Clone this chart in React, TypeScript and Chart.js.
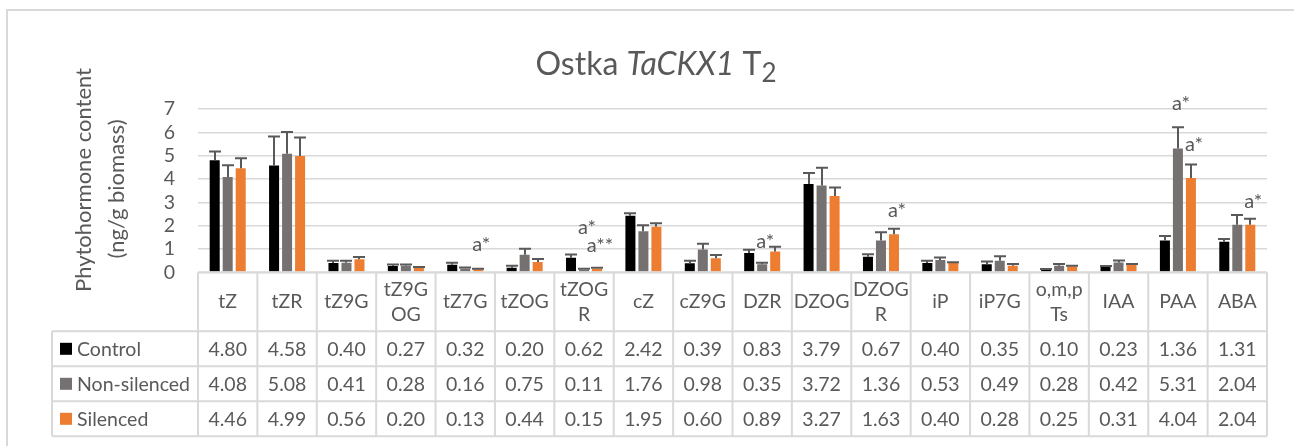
import React, { useEffect, useRef } from 'react';
import { Chart, registerables } from 'chart.js';

Chart.register(...registerables);

const categories = ['tZ', 'tZR', 'tZ9G', 'tZ9G\nOG', 'tZ7G', 'tZOG', 'tZOG\nR', 'cZ', 'cZ9G', 'DZR', 'DZOG', 'DZOG\nR', 'iP', 'iP7G', 'o,m,p\nTs', 'IAA', 'PAA', 'ABA'];
const seriesNames = ['Control', 'Non-silenced', 'Silenced'];

const control = [4.80, 4.58, 0.40, 0.27, 0.32, 0.20, 0.62, 2.42, 0.39, 0.83, 3.79, 0.67, 0.40, 0.35, 0.10, 0.23, 1.36, 1.31];
const nonSilenced = [4.08, 5.08, 0.41, 0.28, 0.16, 0.75, 0.11, 1.76, 0.98, 0.35, 3.72, 1.36, 0.53, 0.49, 0.28, 0.42, 5.31, 2.04];
const silenced = [4.46, 4.99, 0.56, 0.20, 0.13, 0.44, 0.15, 1.95, 0.60, 0.89, 3.27, 1.63, 0.40, 0.28, 0.25, 0.31, 4.04, 2.04];

const controlErr = [0.38, 1.24, 0.09, 0.06, 0.09, 0.08, 0.14, 0.11, 0.11, 0.14, 0.47, 0.10, 0.10, 0.11, 0.04, 0.04, 0.20, 0.12];
const nonSilencedErr = [0.51, 0.93, 0.09, 0.05, 0.05, 0.26, 0.04, 0.26, 0.24, 0.06, 0.76, 0.36, 0.10, 0.20, 0.08, 0.09, 0.91, 0.42];
const silencedErr = [0.43, 0.79, 0.10, 0.03, 0.02, 0.13, 0.05, 0.15, 0.14, 0.20, 0.36, 0.24, 0.03, 0.08, 0.03, 0.05, 0.58, 0.26];

// significance marks: category index, series index, text, level (in data units)
const markCategory = [4, 6, 6, 9, 11, 16, 16, 17];
const markSeries = [2, 1, 2, 1, 2, 1, 2, 2];
const markText = ['a*', 'a*', 'a**', 'a*', 'a*', 'a*', 'a*', 'a*'];
const markLevel = [1.17, 1.9, 1.13, 1.31, 2.64, 7.23, 5.47, 3.03];

const yTicks = [0, 1, 2, 3, 4, 5, 6, 7];

const seriesValues = [control, nonSilenced, silenced];
const seriesErrors = [controlErr, nonSilencedErr, silencedErr];
const colors = ['#000000', '#767171', '#ED7D31'];
const TEXT = '#595959';
const LINE = '#D9D9D9';
const FONT = 'Lato, "Open Sans", sans-serif';

const errorBarPlugin = {
  id: 'errorBars',
  afterDatasetsDraw(chart: any) {
    const ctx = chart.ctx;
    const y = chart.scales.y;
    ctx.save();
    ctx.strokeStyle = TEXT;
    ctx.lineWidth = 2;
    seriesValues.forEach((vals, di) => {
      const meta = chart.getDatasetMeta(di);
      meta.data.forEach((bar: any, i: number) => {
        const top = y.getPixelForValue(vals[i] + seriesErrors[di][i]);
        const base = y.getPixelForValue(vals[i]);
        const x = Math.round(bar.x);
        ctx.beginPath();
        ctx.moveTo(x, base);
        ctx.lineTo(x, top);
        ctx.moveTo(x - 6, top);
        ctx.lineTo(x + 6, top);
        ctx.stroke();
      });
    });
    // significance marks
    ctx.fillStyle = TEXT;
    ctx.font = `20px ${FONT}`;
    ctx.textAlign = 'center';
    ctx.textBaseline = 'middle';
    markCategory.forEach((c, k) => {
      const bar = chart.getDatasetMeta(markSeries[k]).data[c];
      ctx.fillText(markText[k], bar.x + 3, y.getPixelForValue(markLevel[k]));
    });
    ctx.restore();
  },
};

const decorPlugin = {
  id: 'decor',
  afterDraw(chart: any) {
    const ctx = chart.ctx;
    const { left, right, bottom } = chart.chartArea;
    const n = categories.length;
    const cw = (right - left) / n;
    const headerH = 59;
    const rowH = 35;
    const tableLeft = 52;
    const headTop = bottom;
    const rowsTop = headTop + headerH;
    const tableBottom = rowsTop + rowH * 3;

    ctx.save();
    // outer frame
    ctx.strokeStyle = LINE;
    ctx.lineWidth = 2;
    ctx.strokeRect(7, 10, 1400, 600);

    // table grid
    ctx.beginPath();
    ctx.moveTo(left, headTop);
    ctx.lineTo(right, headTop);
    for (let r = 0; r <= 3; r++) {
      ctx.moveTo(tableLeft, rowsTop + r * rowH);
      ctx.lineTo(right, rowsTop + r * rowH);
    }
    for (let k = 0; k <= n; k++) {
      const x = left + k * cw;
      ctx.moveTo(x, headTop);
      ctx.lineTo(x, tableBottom);
    }
    ctx.moveTo(tableLeft, rowsTop);
    ctx.lineTo(tableLeft, tableBottom);
    ctx.stroke();

    // header labels
    ctx.fillStyle = TEXT;
    ctx.font = `19.5px ${FONT}`;
    ctx.textAlign = 'center';
    ctx.textBaseline = 'middle';
    categories.forEach((c, i) => {
      const cx = left + (i + 0.5) * cw;
      const lines = c.split('\n');
      const cy = headTop + headerH / 2;
      lines.forEach((ln, j) => {
        ctx.fillText(ln, cx, cy + (j - (lines.length - 1) / 2) * 25);
      });
    });

    // data rows
    seriesValues.forEach((vals, r) => {
      const cy = rowsTop + (r + 0.5) * rowH;
      ctx.textAlign = 'center';
      ctx.fillStyle = TEXT;
      vals.forEach((v, i) => {
        ctx.fillText(v.toFixed(2), left + (i + 0.5) * cw, cy + 1);
      });
      ctx.fillStyle = colors[r];
      ctx.fillRect(60, cy - 6, 12, 12);
      ctx.fillStyle = TEXT;
      ctx.textAlign = 'left';
      ctx.fillText(seriesNames[r], 77, cy + 1);
    });

    // y axis title
    ctx.font = `22px ${FONT}`;
    ctx.textAlign = 'center';
    ctx.textBaseline = 'middle';
    ctx.save();
    ctx.translate(84, 180);
    ctx.rotate(-Math.PI / 2);
    ctx.fillText('Phytohormone content', 0, 0);
    ctx.restore();
    ctx.save();
    ctx.translate(117, 189);
    ctx.rotate(-Math.PI / 2);
    ctx.fillText('(ng/g biomass)', 0, 0);
    ctx.restore();

    // chart title
    const parts = [
      { t: 'Ostka ', f: `32px ${FONT}`, dy: 0 },
      { t: 'TaCKX1', f: `italic 32px ${FONT}`, dy: 0 },
      { t: ' T', f: `32px ${FONT}`, dy: 0 },
      { t: '2', f: `26px ${FONT}`, dy: 7 },
    ];
    let total = 0;
    parts.forEach((p) => {
      ctx.font = p.f;
      total += ctx.measureText(p.t).width;
    });
    let x = 656 - total / 2;
    ctx.textAlign = 'left';
    ctx.textBaseline = 'alphabetic';
    parts.forEach((p) => {
      ctx.font = p.f;
      ctx.fillText(p.t, x, 75 + p.dy);
      x += ctx.measureText(p.t).width;
    });
    ctx.restore();
  },
};

export default function App() {
  const ref = useRef<HTMLCanvasElement>(null);
  useEffect(() => {
    document.body.style.margin = '0';
    const chart = new Chart(ref.current as HTMLCanvasElement, {
      type: 'bar',
      data: {
        labels: categories,
        datasets: seriesNames.map((name, i) => ({
          label: name,
          data: seriesValues[i],
          backgroundColor: colors[i],
          borderWidth: 0,
          barPercentage: 0.77,
          categoryPercentage: 0.657,
        })),
      },
      options: {
        animation: false,
        responsive: false,
        devicePixelRatio: 1,
        layout: { padding: { left: 0, top: 109, right: 27, bottom: 173.7 } },
        plugins: { legend: { display: false }, title: { display: false }, tooltip: { enabled: false } },
        scales: {
          x: { display: false },
          y: {
            min: 0,
            max: 7,
            afterBuildTicks: (scale: any) => {
              scale.ticks = yTicks.map((v) => ({ value: v }));
            },
            afterFit: (scale: any) => {
              scale.width = 198;
            },
            border: { display: false },
            grid: { color: LINE, lineWidth: 1.5, drawTicks: false },
            ticks: { stepSize: 1, autoSkip: false, padding: 23, color: TEXT, font: { family: FONT, size: 19.5 } },
          },
        },
      },
      plugins: [errorBarPlugin, decorPlugin],
    });
    return () => chart.destroy();
  }, []);
  return (
    <div style={{ position: 'fixed', left: 0, top: 0 }}>
      <canvas ref={ref} width={1294} height={446} style={{ display: 'block' }} />
    </div>
  );
}
